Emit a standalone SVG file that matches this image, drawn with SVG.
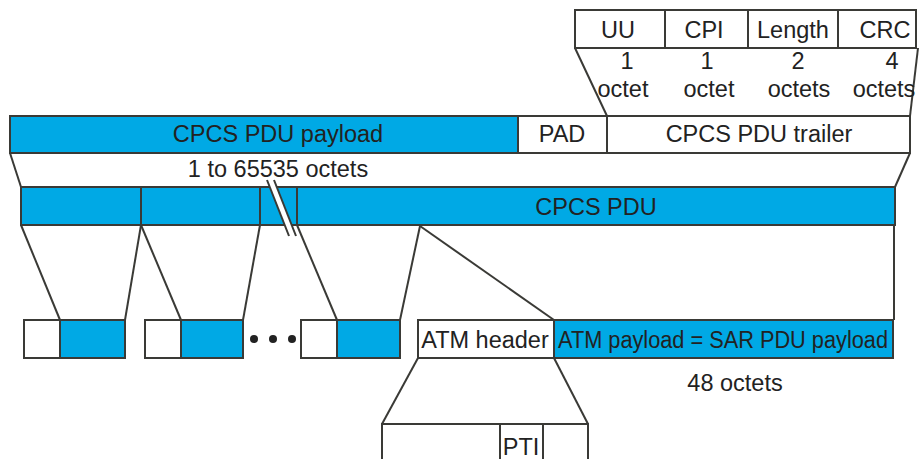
<svg xmlns="http://www.w3.org/2000/svg" width="922" height="459" viewBox="0 0 922 459">
  <style>
    .blue { fill: #00a9e5; stroke: #3a3a36; stroke-width: 2; }
    .white { fill: #ffffff; stroke: #3a3a36; stroke-width: 2; }
    .ln { fill: none; stroke: #3a3a36; stroke-width: 2; }
    text { font-family: "Liberation Sans", Arial, sans-serif; font-size: 23.5px; fill: #222222; text-anchor: middle; }
  </style>
  <rect width="922" height="459" fill="#ffffff"/>

  <!-- connectors: expansion lines between layers -->
  <g id="connectors">
    <line class="ln" x1="575" y1="48" x2="607" y2="116"/>
    <line class="ln" x1="918" y1="48" x2="910" y2="116"/>
    <line class="ln" x1="10" y1="153" x2="21" y2="187"/>
    <line class="ln" x1="910" y1="153" x2="895" y2="187"/>
    <line class="ln" x1="21" y1="225" x2="60" y2="320"/>
    <line class="ln" x1="141" y1="225" x2="125" y2="320"/>
    <line class="ln" x1="141" y1="225" x2="181" y2="320"/>
    <line class="ln" x1="260" y1="225" x2="243" y2="320"/>
    <line class="ln" x1="297" y1="225" x2="337" y2="320"/>
    <line class="ln" x1="420" y1="226" x2="400" y2="320"/>
    <line class="ln" x1="420" y1="226" x2="554" y2="320"/>
    <line class="ln" x1="894" y1="225" x2="894" y2="320"/>
    <line class="ln" x1="418" y1="358" x2="382" y2="424"/>
    <line class="ln" x1="554" y1="358" x2="588" y2="424"/>
  </g>

  <!-- CPCS PDU trailer fields -->
  <g id="trailer-fields">
    <rect class="white" x="575" y="10" width="341" height="38"/>
    <line class="ln" x1="665" y1="10" x2="665" y2="48"/>
    <line class="ln" x1="748" y1="10" x2="748" y2="48" stroke-width="3"/>
    <line class="ln" x1="838" y1="10" x2="838" y2="48"/>
    <text x="618" y="38">UU</text>
    <text x="704" y="38">CPI</text>
    <text x="793" y="38">Length</text>
    <text x="885" y="38">CRC</text>
    <text x="627" y="69">1</text>
    <text x="623" y="97">octet</text>
    <text x="707" y="69">1</text>
    <text x="709" y="97">octet</text>
    <text x="798" y="69">2</text>
    <text x="799" y="97">octets</text>
    <text x="892" y="69">4</text>
    <text x="884" y="97">octets</text>
  </g>

  <!-- CPCS PDU: payload, padding, trailer -->
  <g id="cpcs-pdu-fields">
    <rect class="blue" x="10" y="116" width="508" height="37"/>
    <rect class="white" x="518" y="116" width="89" height="37"/>
    <rect class="white" x="607" y="116" width="303" height="37"/>
    <text x="278" y="142">CPCS PDU payload</text>
    <text x="562" y="142">PAD</text>
    <text x="759" y="142">CPCS PDU trailer</text>
    <text x="278" y="177">1 to 65535 octets</text>
  </g>

  <!-- CPCS PDU split into cells -->
  <g id="cpcs-pdu">
    <rect class="blue" x="21" y="187" width="874" height="38"/>
    <line class="ln" x1="141" y1="187" x2="141" y2="225"/>
    <line class="ln" x1="260" y1="187" x2="260" y2="225"/>
    <line class="ln" x1="297" y1="187" x2="297" y2="225" stroke-width="3"/>
    <text x="596" y="215">CPCS PDU</text>
  </g>

  <!-- break mark -->
  <g id="break">
    <polygon points="267,180 274,180 296,236 289,236" fill="#ffffff"/>
    <line class="ln" x1="267" y1="180" x2="289" y2="236"/>
    <line class="ln" x1="274" y1="180" x2="296" y2="236"/>
  </g>

  <!-- ATM cells -->
  <g id="cell-1">
    <rect class="white" x="24" y="320" width="36" height="38"/>
    <rect class="blue" x="60" y="320" width="65" height="38"/>
  </g>
  <g id="cell-2">
    <rect class="white" x="145" y="320" width="36" height="38"/>
    <rect class="blue" x="181" y="320" width="62" height="38"/>
  </g>
  <g id="ellipsis">
    <circle cx="254" cy="339" r="4" fill="#222222"/>
    <circle cx="273" cy="339" r="4" fill="#222222"/>
    <circle cx="292" cy="339" r="4" fill="#222222"/>
  </g>
  <g id="cell-n">
    <rect class="white" x="301" y="320" width="36" height="38"/>
    <rect class="blue" x="337" y="320" width="63" height="38"/>
  </g>

  <!-- expanded ATM cell -->
  <g id="atm-cell">
    <rect class="white" x="418" y="320" width="136" height="38"/>
    <rect class="blue" x="554" y="320" width="339" height="38"/>
    <text x="485" y="348">ATM header</text>
    <text x="723" y="348" textLength="330" lengthAdjust="spacingAndGlyphs">ATM payload = SAR PDU payload</text>
    <text x="735" y="391">48 octets</text>
  </g>

  <!-- ATM header fields -->
  <g id="atm-header">
    <path class="ln" d="M382,461 V424 H588 V461"/>
    <line class="ln" x1="500" y1="424" x2="500" y2="461"/>
    <line class="ln" x1="543" y1="424" x2="543" y2="461"/>
    <text x="521" y="455">PTI</text>
  </g>
</svg>
